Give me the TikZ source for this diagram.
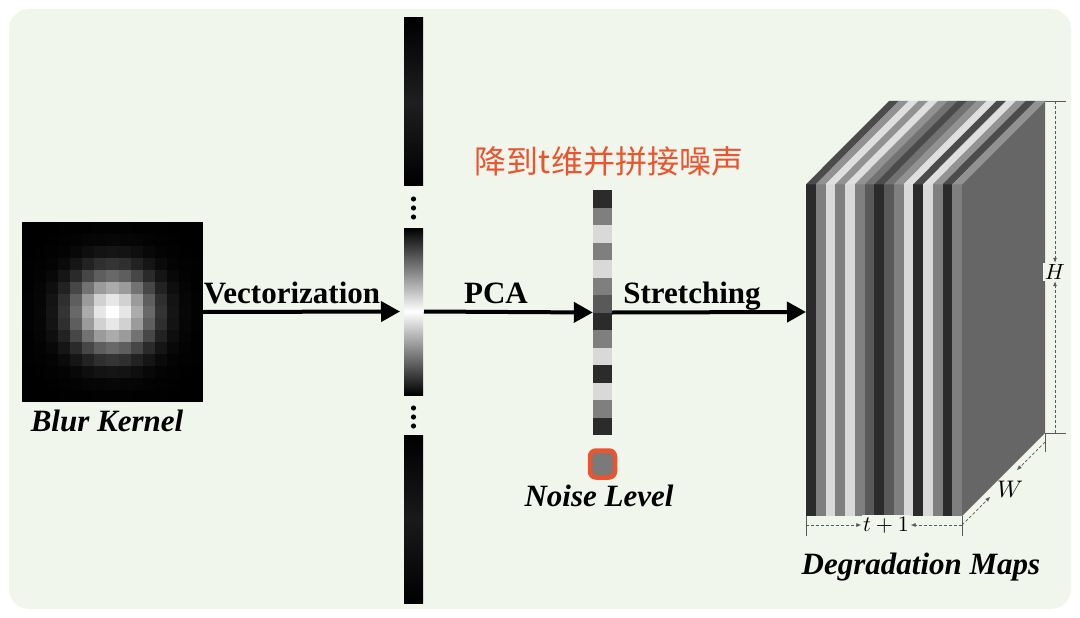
\documentclass[tikz,border=0pt]{standalone}
\usepackage{graphicx}
\usepackage{fontspec}
\setmainfont{Liberation Serif}
\newfontfamily\cjk{Noto Sans CJK SC}
\usetikzlibrary{arrows.meta,calc}
\definecolor{bgc}{RGB}{240,246,236}
\definecolor{orng}{RGB}{234,84,46}
\definecolor{sD}{RGB}{43,43,43}
\definecolor{sG}{RGB}{127,127,127}
\definecolor{sL}{RGB}{217,217,217}
\definecolor{sM}{RGB}{89,89,89}
\definecolor{sideC}{RGB}{102,102,102}
\definecolor{noiseC}{RGB}{122,122,122}
\newcommand{\bigmath}[1]{\scalebox{2.2}{$#1$}}
\tikzset{
  lbl/.style={font=\fontsize{31}{36}\selectfont\bfseries, inner sep=0pt, anchor=base},
  ilbl/.style={font=\fontsize{31}{36}\selectfont\bfseries\itshape, inner sep=0pt, anchor=base},
  bigarrow/.style={line width=4pt, -{Triangle[length=19pt,width=20pt]}},
  vbar/.style={minimum width=19pt, inner sep=0pt, outer sep=0pt},
  dimline/.style={densely dashed, gray!70!black, line width=0.7pt, -{Latex[length=5pt,width=4pt]}},
  dimtick/.style={gray!70!black, line width=0.8pt},
  mathlbl/.style={inner sep=1.5pt, fill=bgc}
}
\begin{document}
\begin{tikzpicture}[x=1pt,y=-1pt]
\useasboundingbox (0,0) rectangle (1080,618);
\fill[white] (0,0) rectangle (1080,618);
\fill[bgc, rounded corners=20pt] (9,9) rectangle (1071,609);

% ---------- blur kernel ----------
\foreach \i in {0,...,14}{
  \foreach \j in {0,...,14}{
    \pgfmathsetmacro\p{100*exp(-((\i-7)^2+(\j-7)^2)/10)}
    \fill[white!\p!black] ({22+\i*12.07},{222+\j*12}) rectangle ++(12.4,12.3);
  }
}
\node[minimum width=181pt, minimum height=180pt, inner sep=0pt] (kernel) at (112.5,312) {};
\node[ilbl] (kernellbl) at (107,431) {Blur Kernel};

% ---------- vectorized kernel ----------
\node[vbar, minimum height=167pt, shade, top color=black, bottom color=black, middle color=black!88!white] (vtop) at (413.5,101.5) {};
\node[vbar, minimum height=167pt, shade, top color=black, bottom color=black, middle color=white] (vmid) at (413.5,311.5) {};
\node[vbar, minimum height=168pt, shade, top color=black, bottom color=black, middle color=black!90!white] (vbot) at (413.5,519) {};
\foreach \y in {199,208,217,408,417,426}{
  \fill (413.5,\y) circle (2.6pt);
}

% ---------- PCA vector ----------
\foreach \c [count=\k from 0] in {sD,sG,sL,sG,sL,sG,sM,sD,sG,sL,sD,sL,sG,sD}{
  \fill[\c] (593,{190+\k*17.5}) rectangle (612,{190+(\k+1)*17.5+0.3});
}
\node[minimum width=19pt, minimum height=245pt, inner sep=0pt] (pcav) at (602.5,312.5) {};
\node[draw=orng, line width=4.5pt, fill=noiseC, rounded corners=6pt, minimum width=25pt, minimum height=27pt, inner sep=0pt] (noise) at (602.5,464) {};
\node[ilbl] (noiselbl) at (599,506) {Noise Level};
\node[font=\fontsize{32}{36}\selectfont\cjk, text=orng, inner sep=0pt] (cjklbl) at (609,161) {降到t维并拼接噪声};

% ---------- degradation maps cube ----------
\fill[sideC] (962,184) -- (1045,101) -- (1045,433) -- (962,516) -- cycle;
\foreach \c [count=\k from 0] in {sD,sG,sL,sG,sL,sG,sM,sD,sM,sG,sL,sD,sL,sG,sD,sG}{
  \fill[\c] ({806+\k*9.75},184) rectangle ({806+(\k+1)*9.75+0.3},516);
  \fill[\c!85!white] ({806+\k*9.75},184.3) -- ({806+(\k+1)*9.75+0.3},184.3) -- ({889+(\k+1)*9.75+0.3},101) -- ({889+\k*9.75},101) -- cycle;
}
\node[minimum width=156pt, minimum height=332pt, inner sep=0pt] (front) at (884,350) {};
\coordinate (cubein) at (806,312);
\node[ilbl] (dmlbl) at (921,574) {Degradation Maps};

% dimension H
\coordinate (htop) at (1055,101);
\coordinate (hbot) at (1055,433);
\draw[dimtick] (1045,101) -- (1066,101);
\draw[dimtick] (1045,433) -- (1066,433);
\node[mathlbl] (hlab) at (1055,272) {\bigmath{H}};
\draw[dimline] (htop) -- (hlab.north);
\draw[dimline] (hbot) -- (hlab.south);

% dimension t+1
\coordinate (tl) at (806,525);
\coordinate (tr) at (962,525);
\draw[dimtick] (806,516) -- (806,536);
\draw[dimtick] (962,516) -- (962,536);
\node[mathlbl] (tlab) at (886,525) {\bigmath{t+1}};
\draw[dimline] (tl) -- (tlab.west);
\draw[dimline] (tr) -- (tlab.east);

% dimension W
\coordinate (wa) at (962,525);
\coordinate (wb) at (1045,442);
\draw[dimtick] (1045,433) -- (1045,452);
\draw[dimline] (wb) -- ($(wb)!0.34!(wa)$);
\draw[dimline] (wa) -- ($(wa)!0.34!(wb)$);
\node[inner sep=0pt] (wlab) at (1010,489) {\scalebox{2.4}{$W$}};

% ---------- big arrows ----------
\draw[bigarrow] (kernel.east) -- ([xshift=-4pt]vmid.west);
\draw[bigarrow] ([xshift=1pt]vmid.east) -- (pcav.west);
\draw[bigarrow] (pcav.east) -- (cubein);
\node[lbl] (veclbl) at (292,303) {Vectorization};
\node[lbl] (pcalbl) at (496,303) {PCA};
\node[lbl] (strlbl) at (692,303) {Stretching};
\end{tikzpicture}
\end{document}
